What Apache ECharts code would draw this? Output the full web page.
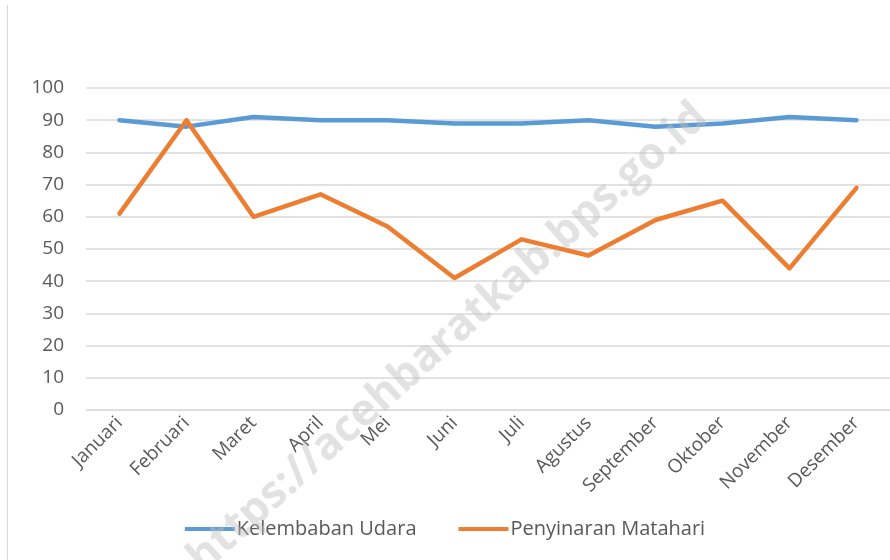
<!DOCTYPE html>
<html>
<head>
<meta charset="utf-8">
<script src="https://cdn.jsdelivr.net/npm/echarts@6/dist/echarts.min.js"></script>
<style>
  html, body { margin: 0; padding: 0; background: #fff; }
  #chart { width: 890px; height: 560px; }
</style>
</head>
<body>
<div id="chart"></div>
<script>
const months = ['Januari', 'Februari', 'Maret', 'April', 'Mei', 'Juni', 'Juli', 'Agustus', 'September', 'Oktober', 'November', 'Desember'];
const kelembaban = [90, 88, 91, 90, 90, 89, 89, 90, 88, 89, 91, 90];
const penyinaran = [61, 90, 60, 67, 57, 41, 53, 48, 59, 65, 44, 69];

const chart = echarts.init(document.getElementById('chart'));
const font = '"Open Sans", "Noto Sans", sans-serif';

chart.setOption({
  animation: false,
  textStyle: { fontFamily: font },
  grid: { left: 86, right: 0, top: 88, bottom: 150 },
  legend: {
    bottom: 16,
    left: 'center',
    itemWidth: 50,
    itemHeight: 4,
    itemGap: 42,
    icon: 'rect',
    textStyle: { fontSize: 20, color: '#595959', fontFamily: font, padding: [0, 0, 0, -3] },
    data: ['Kelembaban Udara', 'Penyinaran Matahari']
  },
  xAxis: {
    type: 'category',
    data: months,
    axisLine: { show: true, lineStyle: { color: '#d9d9d9', width: 1 } },
    axisTick: { show: false },
    axisLabel: { rotate: 45, fontSize: 19, color: '#595959', margin: 10, interval: 0 }
  },
  yAxis: {
    type: 'value',
    min: 0,
    max: 100,
    interval: 10,
    axisLine: { show: false },
    axisTick: { show: false },
    axisLabel: { fontSize: 19, color: '#595959', margin: 22 },
    splitLine: { lineStyle: { color: '#d9d9d9', width: 1.5 } }
  },
  series: [
    {
      name: 'Kelembaban Udara',
      type: 'line',
      data: kelembaban,
      symbol: 'none',
      itemStyle: { color: '#5b9bd5' },
      lineStyle: { color: '#5b9bd5', width: 4.5, cap: 'round', join: 'round' }
    },
    {
      name: 'Penyinaran Matahari',
      type: 'line',
      data: penyinaran,
      symbol: 'none',
      itemStyle: { color: '#ed7d31' },
      lineStyle: { color: '#ed7d31', width: 4.5, cap: 'round', join: 'round' }
    }
  ],
  graphic: [
    {
      type: 'line',
      shape: { x1: 7.5, y1: 5, x2: 7.5, y2: 560 },
      style: { stroke: '#d9d9d9', lineWidth: 1 },
      silent: true
    },
    {
      type: 'text',
      x: 448,
      y: 338,
      rotation: 0.73,
      z: 100,
      silent: true,
      style: {
        text: 'https://acehbaratkab.bps.go.id',
        fill: 'rgba(190,190,190,0.45)',
        font: 'bold 44px ' + font,
        align: 'center',
        verticalAlign: 'middle'
      }
    }
  ]
});
</script>
</body>
</html>
